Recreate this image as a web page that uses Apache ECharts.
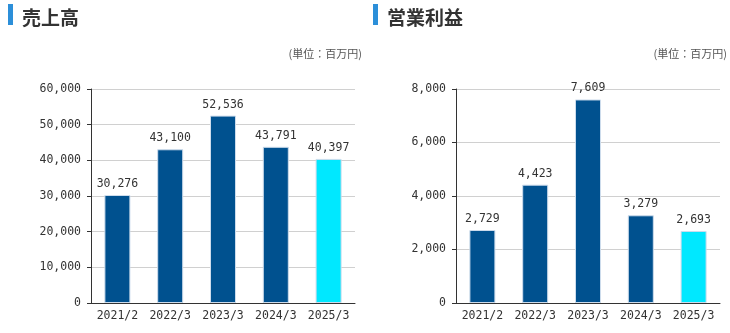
<!DOCTYPE html>
<html>
<head>
<meta charset="utf-8">
<script src="https://cdn.jsdelivr.net/npm/echarts@6/dist/echarts.min.js"></script>
<style>
  html, body { margin: 0; padding: 0; background: #fff; }
  #chart { width: 730px; height: 333px; }
</style>
</head>
<body>
<div id="chart"></div>
<script>
// Fiscal periods shown on both panels
const periods = ['2021/2', '2022/3', '2023/3', '2024/3', '2025/3'];
// Net sales (million yen)
const salesValues = [30276, 43100, 52536, 43791, 40397];
// Operating income (million yen)
const incomeValues = [2729, 4423, 7609, 3279, 2693];
// Value-axis ranges
const salesAxis = { min: 0, max: 60000, interval: 10000 };
const incomeAxis = { min: 0, max: 8000, interval: 2000 };

const DARK = '#00518f';
const LATEST = '#00e8ff';
const MONO = '"DejaVu Sans Mono", "Liberation Mono", monospace';
const JP = '"Noto Sans CJK JP", "Noto Sans", sans-serif';

function barData(values) {
  return values.map((v, i) => ({
    value: v,
    itemStyle: { color: i === values.length - 1 ? LATEST : DARK }
  }));
}

function fmt(v) {
  return Number(v).toLocaleString('en-US');
}

const chart = echarts.init(document.getElementById('chart'), null, { renderer: 'canvas' });

const xAxisBase = {
  type: 'category',
  data: periods,
  axisLine: { lineStyle: { color: '#333', width: 1 } },
  axisTick: { alignWithLabel: true, length: 5, lineStyle: { color: '#333' } },
  axisLabel: { interval: 0, hideOverlap: false, color: '#333', fontFamily: MONO, fontSize: 11.5, margin: 7 }
};
const yAxisBase = {
  type: 'value',
  axisLine: { show: true, lineStyle: { color: '#333', width: 1 } },
  axisTick: { show: true, length: 4, lineStyle: { color: '#333' } },
  axisLabel: { color: '#333', fontFamily: MONO, fontSize: 11.5, margin: 10, formatter: fmt },
  splitLine: { lineStyle: { color: '#d0d0d0' } }
};
const seriesBase = {
  type: 'bar',
  barWidth: 26,
  itemStyle: { borderColor: '#cddcec', borderWidth: 1 },
  label: {
    show: true, position: 'top', distance: 5,
    color: '#333', fontFamily: MONO, fontSize: 11.5,
    formatter: p => fmt(p.value)
  }
};

function header(x, text) {
  return [
    { type: 'rect', left: x + 8, top: 4, shape: { width: 5, height: 21 }, style: { fill: '#2c8fd9' } },
    { type: 'text', left: x + 22, top: 8, style: { text: text, fill: '#333', font: 'bold 19px ' + JP } },
    { type: 'text', right: (x === 0 ? 730 - 362 : 730 - 727), top: 48, style: { text: '(単位：百万円)', fill: '#555', font: '11px ' + JP } }
  ];
}

chart.setOption({
  animation: false,
  grid: [
    { left: 91, right: 375, top: 89, bottom: 30 },
    { left: 456, right: 10, top: 89, bottom: 30 }
  ],
  xAxis: [
    Object.assign({ gridIndex: 0 }, xAxisBase),
    Object.assign({ gridIndex: 1 }, xAxisBase)
  ],
  yAxis: [
    Object.assign({ gridIndex: 0 }, yAxisBase, salesAxis),
    Object.assign({ gridIndex: 1 }, yAxisBase, incomeAxis)
  ],
  series: [
    Object.assign({ xAxisIndex: 0, yAxisIndex: 0, data: barData(salesValues) }, seriesBase),
    Object.assign({ xAxisIndex: 1, yAxisIndex: 1, data: barData(incomeValues) }, seriesBase)
  ],
  graphic: header(0, '売上高').concat(header(365, '営業利益'))
});
</script>
</body>
</html>
